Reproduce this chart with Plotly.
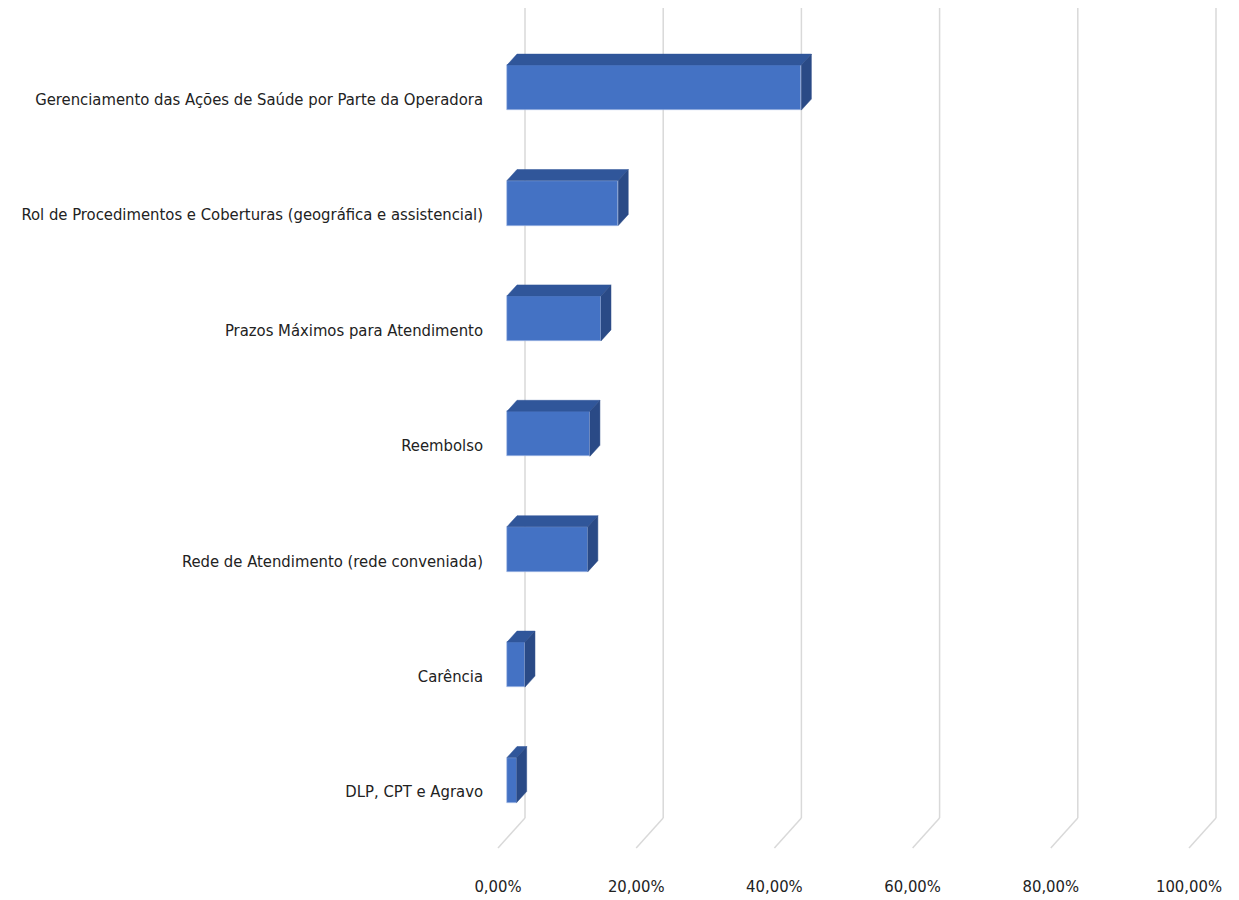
import plotly.graph_objects as go

# ---------------- data ----------------
categories = [
    "Gerenciamento das Ações de Saúde por Parte da Operadora",
    "Rol de Procedimentos e Coberturas (geográfica e assistencial)",
    "Prazos Máximos para Atendimento",
    "Reembolso",
    "Rede de Atendimento (rede conveniada)",
    "Carência",
    "DLP, CPT e Agravo",
]
values = [42.6, 16.1, 13.6, 12.0, 11.7, 2.6, 1.4]
tick_values = [0, 20, 40, 60, 80, 100]
tick_labels = ["0,00%", "20,00%", "40,00%", "60,00%", "80,00%", "100,00%"]

# ---------------- layout geometry (screen pixels, page body margin = 8) ----------------
OFF = 8
W, H = 1239 - OFF, 900 - OFF
ML, MR, MT, MB = 496 - OFF, 4, 0, 40
PX_X = 6.91              # pixels per percentage point
X0 = 507 - OFF           # pixel of 0% on bar front plane
PX_Y = 115.4             # pixels per category step
Y0 = 780 - OFF           # pixel of lowest category centre

xrange = [(ML - X0) / PX_X, (W - MR - X0) / PX_X]
yrange = [(Y0 - (H - MB)) / PX_Y, (Y0 - MT) / PX_Y]

n = len(categories)
ypos = [n - 1 - k for k in range(n)]
half = 0.195
dx = 10 / PX_X
dy = 11 / PX_Y

FRONT = "#4472C4"
TOP = "#30569A"
SIDE = "#2A4A86"
FONT = "DejaVu Sans Condensed, Liberation Sans Narrow, Roboto, sans-serif"

fig = go.Figure()

# front faces
fig.add_trace(go.Bar(
    x=values, y=ypos, orientation="h", base=0, width=2 * half,
    marker=dict(color=FRONT, line=dict(color="#A9C0E8", width=0.6)),
    hoverinfo="skip", showlegend=False,
))

# top faces and side faces
tx, ty, sx, sy = [], [], [], []
for v, y in zip(values, ypos):
    tx += [0, v, v + dx, dx, 0, None]
    ty += [y + half, y + half, y + half + dy, y + half + dy, y + half, None]
    sx += [v, v + dx, v + dx, v, v, None]
    sy += [y - half, y - half + dy, y + half + dy, y + half, y - half, None]

fig.add_trace(go.Scatter(x=tx, y=ty, mode="lines", fill="toself", fillcolor=TOP,
                         line=dict(color=TOP, width=0.5), hoverinfo="skip", showlegend=False))
fig.add_trace(go.Scatter(x=sx, y=sy, mode="lines", fill="toself", fillcolor=SIDE,
                         line=dict(color=SIDE, width=0.5), hoverinfo="skip", showlegend=False))

# 3D gridlines: back wall verticals + floor diagonals
bx = 18 / PX_X
fx = -9 / PX_X
y_top = (Y0 - (8 - OFF)) / PX_Y
y_back = (Y0 - (818 - OFF)) / PX_Y
y_front = (Y0 - (848 - OFF)) / PX_Y
for v in tick_values:
    fig.add_shape(type="line", x0=v + bx, x1=v + bx, y0=y_back, y1=y_top,
                  line=dict(color="#D9D9D9", width=1.5), layer="below")
    fig.add_shape(type="line", x0=v + bx, x1=v + fx, y0=y_back, y1=y_front,
                  line=dict(color="#D9D9D9", width=1.5), layer="below")

fig.update_layout(
    width=W, height=H,
    margin=dict(l=ML, r=MR, t=MT, b=MB, pad=0, autoexpand=False),
    plot_bgcolor="white", paper_bgcolor="white",
    font=dict(family=FONT, size=16.5, color="#222222"),
    xaxis=dict(range=xrange, showgrid=False, zeroline=False, showline=False,
               tickvals=[v + fx for v in tick_values], ticktext=tick_labels,
               ticks="", ticklabelstandoff=14, automargin=False, fixedrange=True),
    yaxis=dict(range=yrange, showgrid=False, zeroline=False, showline=False,
               tickvals=[y - 0.1 for y in ypos], ticktext=categories,
               ticks="", ticklabelstandoff=12, automargin=False, fixedrange=True),
    bargap=0,
)

fig.write_html("out.html")
